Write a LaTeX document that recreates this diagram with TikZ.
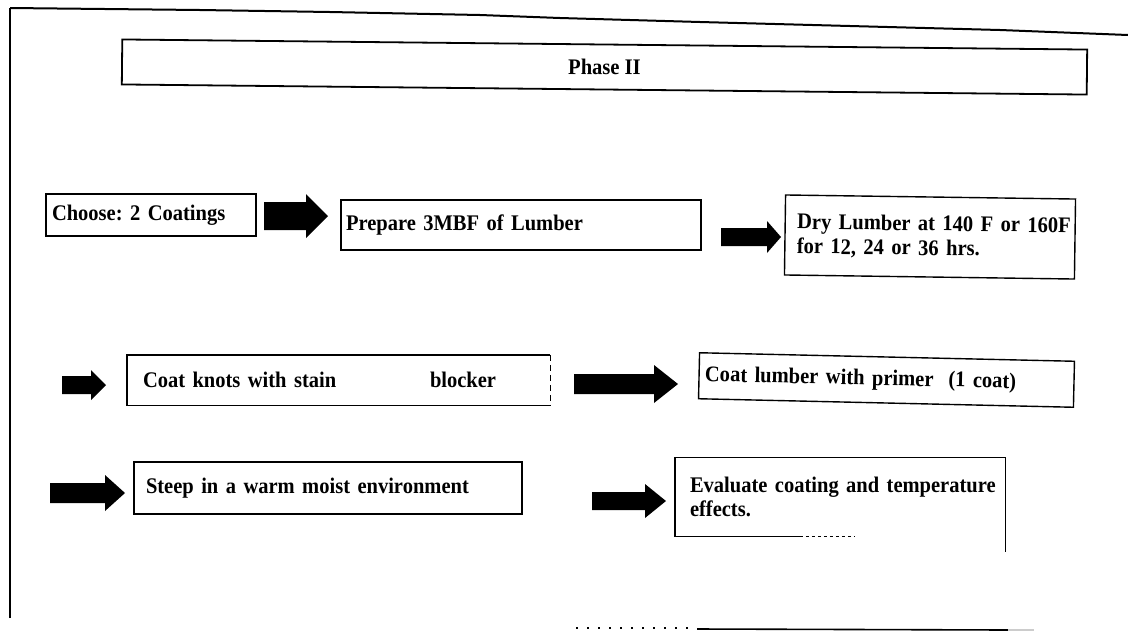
\documentclass[tikz,border=0pt]{standalone}
\usepackage{fontspec}
\setmainfont{Liberation Serif}[FakeStretch=0.92]
\usetikzlibrary{calc}
\frenchspacing
\newcommand{\blockarr}[6]{\fill (#1,#3-#4) -- (#2-#6,#3-#4) -- (#2-#6,#3-#5) -- (#2,#3) -- (#2-#6,#3+#5) -- (#2-#6,#3+#4) -- (#1,#3+#4) -- cycle;}
\begin{document}
\begin{tikzpicture}[x=1pt,y=-1pt,
  every node/.style={font=\fontsize{22.3}{24.5}\selectfont\bfseries},
  bl/.style={line width=1.4pt},
  stepbox/.style={draw, line width=1.4pt, inner ysep=0pt, inner xsep=#1, align=left, anchor=center},
  stepbox/.default=6pt,
  openbox/.style={inner ysep=0pt, inner xsep=#1, align=left, anchor=center},
  openbox/.default=6pt]
\useasboundingbox (0,0) rectangle (1128,633);
% outer frame (scanned page edges)
\draw[line width=1.2pt] (10,618) -- (10,8);
\draw[line width=2pt] (10,8) -- (200,10) -- (330,12) -- (480,15) -- (560,18) -- (700,22) -- (850,26) -- (1000,30) -- (1128,35);
\draw[line width=1.4pt, dash pattern=on 2pt off 9pt] (576,628) -- (695,628);
\draw[line width=1.6pt] (697,629) -- (1008,630);
\draw[gray!40, line width=1.5pt] (1008,630) -- (1034,630);
% title
\node[stepbox, line width=1.8pt, align=center, minimum width=965pt, minimum height=45pt, rotate=-0.6] (phase) at (604.5,67) {Phase II};
% row 1
\node[stepbox=6pt, text width=198pt, minimum height=42pt] (choose) at (151,215) {Choose: 2 Coatings};
\node[stepbox=5pt, text width=350pt, minimum height=50pt] (prep) at (521,225) {Prepare 3MBF of Lumber};
\node[stepbox=12pt, text width=266pt, minimum height=80pt, rotate=-0.8] (dry) at (930,237) {\mbox{Dry Lumber at 140 F or 160F}\\for 12, 24 or 36 hrs.};
% row 2
\node[openbox=16pt, text width=391pt, minimum height=50pt] (knots) at (338.5,380) {\makebox[287pt][l]{Coat knots with stain}blocker};
\draw[bl] (knots.north east) -- (knots.north west) -- (knots.south west) -- (knots.south east);
\draw[bl, dash pattern=on 6pt off 4pt] (knots.north east) -- (knots.south east);
\node[stepbox=6pt, text width=363pt, minimum height=46pt, rotate=-1.3] (primer) at (886.5,380) {Coat lumber with primer~ (1 coat)};
% row 3
\node[stepbox=12pt, text width=364pt, minimum height=52pt] (steep) at (328,488) {Steep in a warm moist environment};
\node[openbox=15pt, text width=300pt, minimum height=79pt] (eval) at (840,497) {\mbox{Evaluate coating and temperature}\\effects.};
\draw[bl] (eval.south west) -- (eval.north west) -- (eval.north east) -- ($(eval.south east)+(0,15)$);
\draw[bl] (eval.south west) -- ++(125,0);
\draw[bl, dashed] ($(eval.south west)+(125,0)$) -- ++(55,0);
% block arrows
\blockarr{264}{328}{216}{14}{22}{22}
\blockarr{721}{781}{237}{9}{16}{14}
\blockarr{62}{106}{385}{9}{15}{15}
\blockarr{574}{678}{384}{10}{19}{24}
\blockarr{50}{125}{493}{10}{18}{20}
\blockarr{592}{666}{501}{9}{17}{21}
\end{tikzpicture}
\end{document}
